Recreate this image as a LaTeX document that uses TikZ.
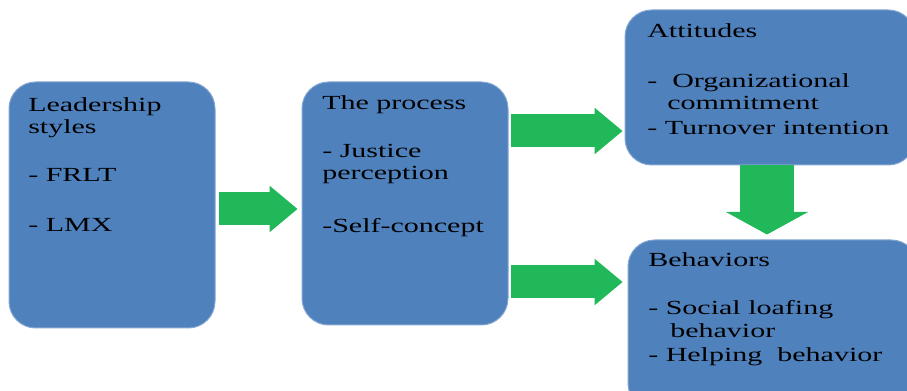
\documentclass[tikz,border=0pt]{standalone}
\usepackage{graphicx}
\usepackage{fontspec}
\setmainfont{Liberation Serif}
\usetikzlibrary{arrows.meta}

\definecolor{boxblue}{RGB}{79,129,189}
\definecolor{arrowgreen}{RGB}{33,184,90}
\newcommand{\widetext}[1]{\scalebox{1.5}[1]{\begin{tabular}[t]{@{}l@{}}#1\end{tabular}}}

\tikzset{
  box/.style={draw=boxblue!70!white, line width=0.75pt, fill=boxblue, rounded corners=20pt, inner sep=0pt},
  boxtext/.style={anchor=base west, inner sep=0pt, text=black, font=\fontsize{15}{16.5}\selectfont},
  blockarrow/.style={draw=arrowgreen, line width=24.75pt, -{Triangle[length=21pt,width=35pt,line width=0pt]}},
  downarrow/.style={draw=arrowgreen, line width=41pt, -{Triangle[length=17pt,width=62pt,line width=0pt]}}
}

\begin{document}
\begin{tikzpicture}[x=0.75pt,y=0.75pt,yscale=-1,xscale=1]
    \useasboundingbox (0,0) rectangle (907,391);
    \clip (0,0) rectangle (907,391);

    %Shape: Rounded Rect [id:lead]
    \node [box, minimum width=154.5pt, minimum height=184.5pt] (lead) at (112,205) {};
    %Shape: Rounded Rect [id:proc]
    \node [box, minimum width=154.5pt, minimum height=182.25pt] (proc) at (405,203.5) {};
    %Shape: Rounded Rect [id:att]
    \node [box, minimum width=217.5pt, minimum height=116.25pt] (att) at (770,87.5) {};
    %Shape: Rounded Rect [id:beh]
    \node [box, minimum width=217.5pt, minimum height=127.5pt] (beh) at (773,325) {};

    %Shape: Right Arrow
    \draw [blockarrow, shorten <=2.25pt, shorten >=3pt] (lead.east |- 0,209) -- (proc.west |- 0,209);
    %Shape: Right Arrow
    \draw [blockarrow, shorten <=1.5pt, shorten >=1.5pt] (proc.east |- 0,131) -- (att.west |- 0,131);
    %Shape: Right Arrow
    \draw [blockarrow, shorten <=1.5pt, shorten >=3.75pt] (proc.east |- 0,282) -- (beh.west |- 0,282);
    %Shape: Down Arrow
    \draw [downarrow, shorten >=3.75pt] (att.south -| 767,0) -- (beh.north -| 767,0);

    % Text Node
    \node [boxtext] (lead-t) at (28,112) {\widetext{Leadership\\ styles\\[19.5pt] - FRLT\\[21pt] - LMX}};
    % Text Node
    \node [boxtext] (proc-t) at (322,110) {\widetext{The process\\[19.5pt] - Justice\\ perception\\[23pt] -Self-concept}};
    % Text Node
    \node [boxtext] (att-t) at (647,38) {\widetext{Attitudes\\[21pt] -\ \ Organizational\\ \hspace*{10pt}commitment\\[2pt] - Turnover intention}};
    % Text Node
    \node [boxtext] (beh-t) at (648,267) {\widetext{Behaviors\\[19.5pt] - Social loafing\\[0.75pt] \hspace*{11pt}behavior\\[1.5pt] - Helping\ \ behavior}};

\end{tikzpicture}
\end{document}
